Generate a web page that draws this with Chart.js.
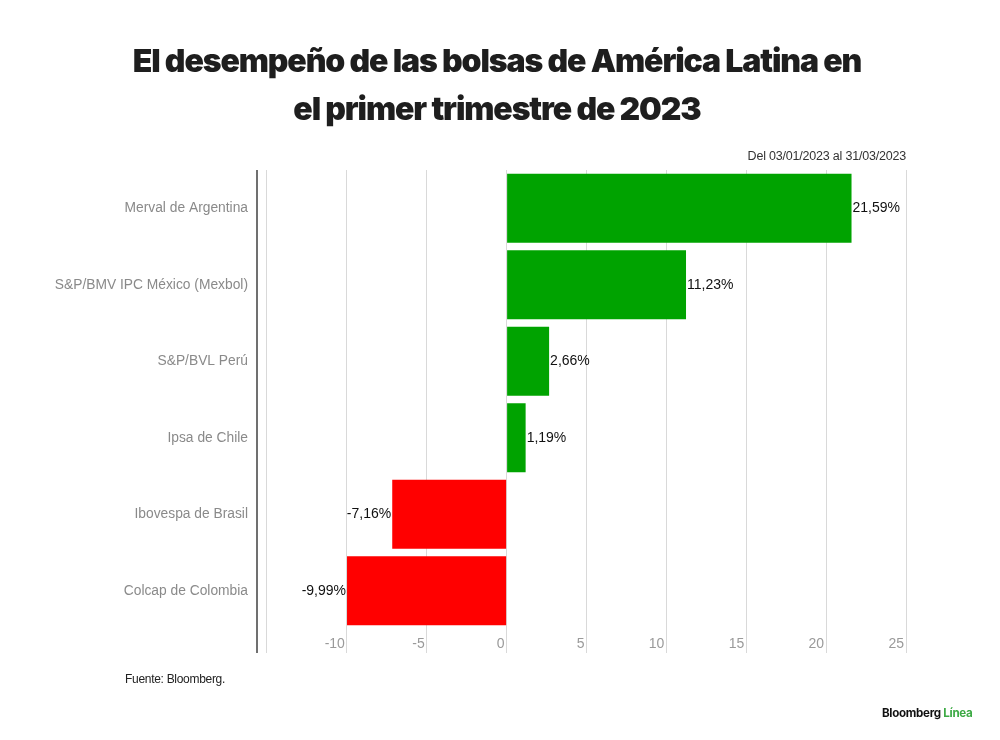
<!DOCTYPE html>
<html lang="es">
<head>
<meta charset="utf-8">
<title>El desempeño de las bolsas de América Latina en el primer trimestre de 2023</title>
<script src="https://cdn.jsdelivr.net/npm/chart.js@4.4.1/dist/chart.umd.min.js"></script>
<style>
  html, body { margin: 0; padding: 0; background: #fff; }
  #wrap { position: relative; width: 1000px; height: 740px; overflow: hidden; }
  #wrap canvas { position: absolute; left: 0; top: 0; }
  .title {
    position: absolute; left: 0; width: 994px; top: 37px;
    text-align: center; font-family: Inter, "Liberation Sans", sans-serif;
    font-weight: 900; font-size: 32px; line-height: 48px; letter-spacing: -1.1px; color: #1e1e1e;
  }
  .period {
    position: absolute; right: 94px; top: 149px;
    font-family: "Liberation Sans", Arial, sans-serif; font-size: 12.5px; letter-spacing: -0.2px; color: #333;
  }
  .source {
    position: absolute; left: 125px; top: 672px;
    font-family: "Liberation Sans", Arial, sans-serif; font-size: 12px; letter-spacing: -0.3px; color: #222;
  }
  .brand {
    position: absolute; left: 882px; top: 706px;
    font-family: Inter, "Liberation Sans", sans-serif; font-weight: 700; font-size: 11.6px; letter-spacing: -0.3px; color: #111;
  }
  .brand span { color: #3daa45; }
</style>
</head>
<body>
<div id="wrap">
  <canvas id="bolsasChart" width="1000" height="740"></canvas>
  <div class="title">El desempeño de las bolsas de América Latina en<br>el primer trimestre de 2023</div>
  <div class="period">Del 03/01/2023 al 31/03/2023</div>
  <div class="source">Fuente: Bloomberg.</div>
  <div class="brand">Bloomberg <span>Línea</span></div>
</div>

<script>
// Datos: variación (%) del primer trimestre de 2023
const indices = [
    'Merval de Argentina',
    'S&P/BMV IPC México (Mexbol)',
    'S&P/BVL Perú',
    'Ipsa de Chile',
    'Ibovespa de Brasil',
    'Colcap de Colombia'
];
const variacion = [21.59, 11.23, 2.66, 1.19, -7.16, -9.99];
const tickValues = [-15, -10, -5, 0, 5, 10, 15, 20, 25];
const AXIS_MIN = -15.625;
const AXIS_MAX = 25;

const GREEN = '#00a300';
const RED = '#ff0000';

const formatPct = v => v.toFixed(2).replace('.', ',') + '%';

// etiquetas de valor al final de cada barra
const valueLabels = {
    id: 'valueLabels',
    afterDatasetsDraw(chart) {
        const { ctx } = chart;
        const meta = chart.getDatasetMeta(0);
        ctx.save();
        ctx.font = '14px "Liberation Sans", Arial, sans-serif';
        ctx.fillStyle = '#111';
        ctx.textBaseline = 'middle';
        meta.data.forEach((bar, i) => {
            const v = variacion[i];
            if (v >= 0) {
                ctx.textAlign = 'left';
                ctx.fillText(formatPct(v), bar.x + 1, bar.y);
            } else {
                ctx.textAlign = 'right';
                ctx.fillText(formatPct(v), bar.x - 1, bar.y);
            }
        });
        ctx.restore();
    }
};

new Chart(document.getElementById('bolsasChart'), {
    type: 'bar',
    data: {
        labels: indices,
        datasets: [{
            data: variacion,
            backgroundColor: variacion.map(v => v >= 0 ? GREEN : RED),
            borderWidth: 0,
            categoryPercentage: 1,
            barPercentage: 0.9
        }]
    },
    options: {
        indexAxis: 'y',
        responsive: false,
        animation: false,
        events: [],
        layout: { padding: { left: 0, right: 94, top: 170, bottom: 71 } },
        plugins: {
            legend: { display: false },
            tooltip: { enabled: false }
        },
        scales: {
            x: {
                min: AXIS_MIN,
                max: AXIS_MAX,
                afterBuildTicks: axis => {
                    axis.ticks = [AXIS_MIN, ...tickValues].map(v => ({ value: v }));
                },
                afterFit: axis => { axis.height = 40; },
                border: { display: false },
                grid: {
                    color: c => c.tick && c.tick.value === AXIS_MIN ? '#707070' : '#d9d9d9',
                    lineWidth: c => c.tick && c.tick.value === AXIS_MIN ? 2 : 1,
                    tickLength: 24
                },
                ticks: {
                    align: 'end',
                    labelOffset: -2,
                    padding: -17,
                    maxRotation: 0,
                    autoSkip: false,
                    color: '#9a9a9a',
                    font: { family: '"Liberation Sans", Arial, sans-serif', size: 14 },
                    callback: v => (v === AXIS_MIN || v === -15) ? '' : String(v)
                }
            },
            y: {
                afterFit: axis => { axis.width = 257; },
                border: { display: false },
                grid: { display: false, drawTicks: false },
                ticks: {
                    padding: 9,
                    color: '#8a8a8a',
                    font: { family: '"Liberation Sans", Arial, sans-serif', size: 13.8 }
                }
            }
        }
    },
    plugins: [valueLabels]
});
</script>
</body>
</html>
